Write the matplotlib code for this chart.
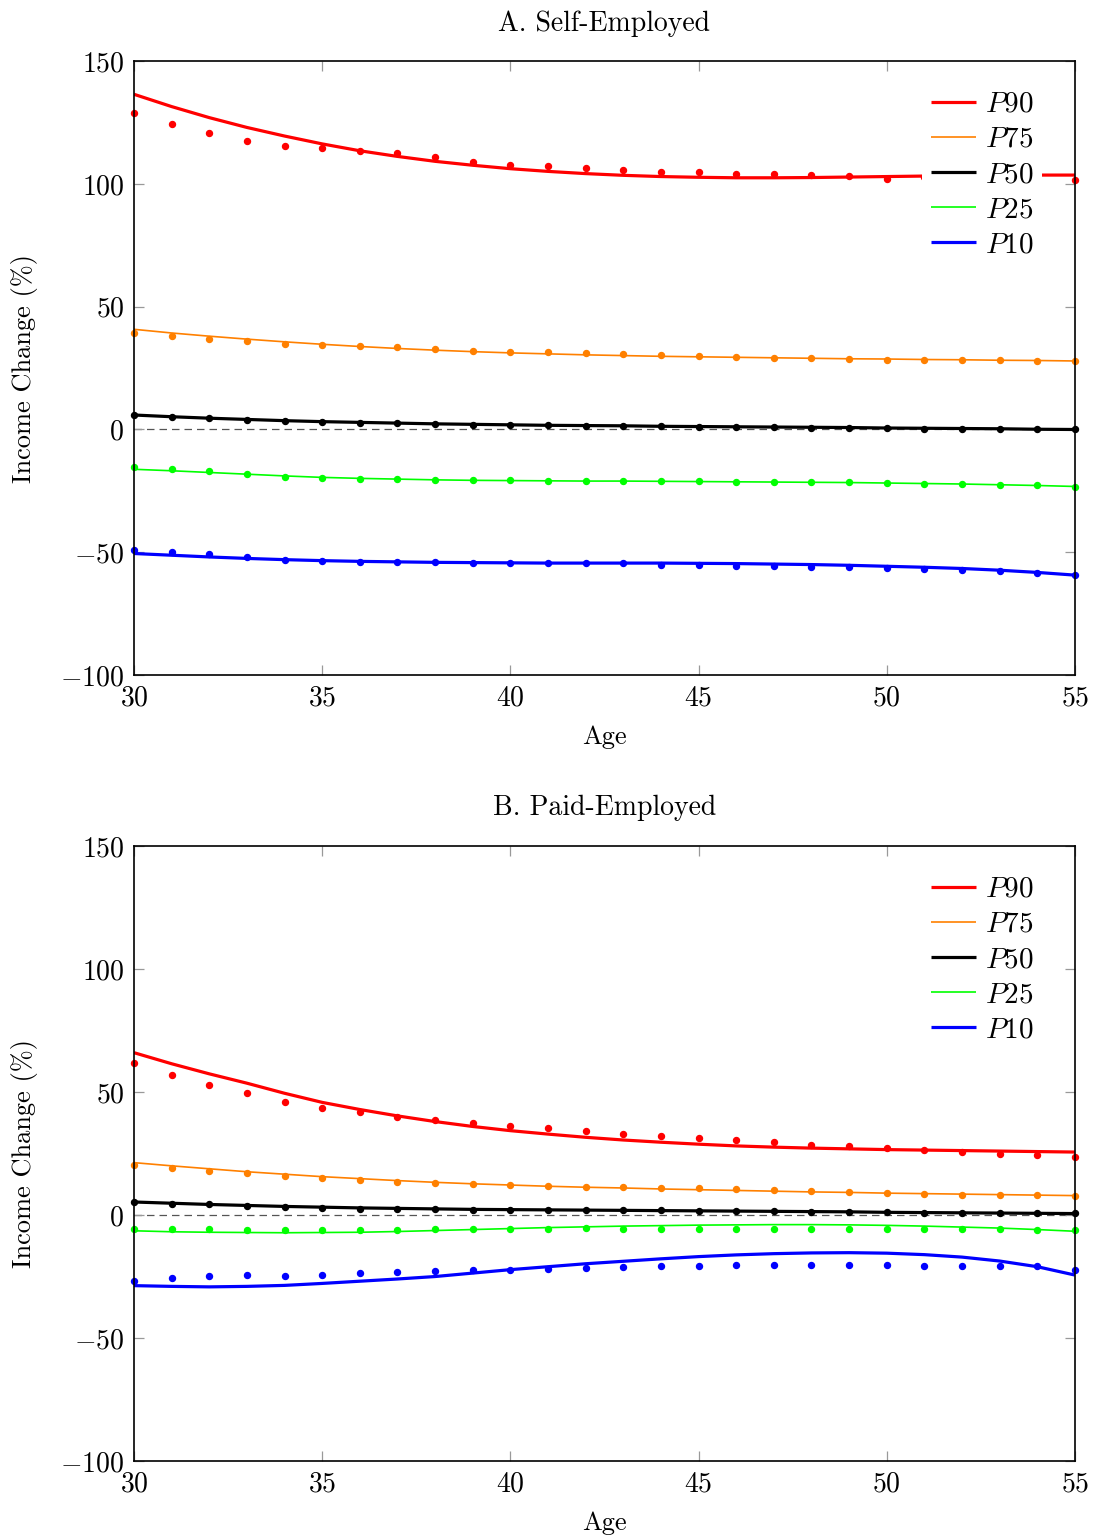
import matplotlib
matplotlib.use("Agg")
import matplotlib.pyplot as plt
import numpy as np

plt.rcParams['font.family'] = ['cmr10', 'DejaVu Serif']
plt.rcParams['mathtext.fontset'] = 'cm'
plt.rcParams['axes.formatter.use_mathtext'] = True
plt.rcParams['axes.unicode_minus'] = True

ages = list(range(30, 56))

# ---------- Panel A: Self-Employed ----------
a_p90_dots = [128.9, 124.6, 120.8, 117.6, 115.4, 114.7, 113.5, 112.4, 110.8, 108.9, 107.9, 107.2, 106.4,
              105.7, 104.7, 104.9, 104.1, 104.0, 103.5, 103.3, 102.1, 103.0, 103.2, 103.3, 103.4, 101.4]
a_p90_fit = [136.5, 131.5, 127.0, 123.0, 119.5, 116.3, 113.5, 111.2, 109.2, 107.6, 106.2, 105.1, 104.2,
             103.5, 103.0, 102.7, 102.5, 102.5, 102.6, 102.8, 103.0, 103.2, 103.4, 103.5, 103.6, 103.6]
a_p75_dots = [39.4, 38.0, 36.9, 36.0, 34.9, 34.4, 34.0, 33.7, 32.7, 32.0, 31.6, 31.5, 31.1,
              30.6, 30.2, 30.1, 29.6, 29.2, 29.1, 28.8, 28.4, 28.4, 28.2, 28.2, 28.0, 27.9]
a_p75_fit = [40.8, 39.3, 38.0, 36.8, 35.7, 34.7, 33.8, 33.0, 32.3, 31.7, 31.2, 30.8, 30.4,
             30.1, 29.8, 29.6, 29.4, 29.2, 29.0, 28.8, 28.7, 28.5, 28.4, 28.2, 28.1, 27.9]
a_p50_dots = [5.7, 5.2, 4.5, 4.0, 3.4, 3.0, 2.6, 2.5, 2.2, 1.9, 1.8, 1.7, 1.5,
              1.5, 1.3, 1.2, 1.1, 1.0, 0.7, 0.7, 0.6, 0.4, 0.3, 0.3, 0.1, 0.0]
a_p50_fit = [5.9, 5.2, 4.6, 4.1, 3.6, 3.2, 2.9, 2.6, 2.3, 2.1, 1.9, 1.7, 1.6,
             1.5, 1.3, 1.2, 1.1, 1.0, 0.9, 0.8, 0.6, 0.5, 0.4, 0.3, 0.1, 0.0]
a_p25_dots = [-15.2, -16.1, -17.1, -18.2, -19.2, -19.8, -20.2, -20.2, -20.5, -20.7, -20.7, -20.9, -20.9,
              -21.0, -21.1, -21.1, -21.3, -21.4, -21.4, -21.5, -21.9, -22.1, -22.2, -22.5, -22.8, -23.3]
a_p25_fit = [-16.2, -16.8, -17.5, -18.2, -18.9, -19.5, -19.9, -20.2, -20.5, -20.7, -20.8, -20.9, -21.0,
             -21.0, -21.1, -21.2, -21.3, -21.4, -21.5, -21.6, -21.8, -22.0, -22.2, -22.5, -22.8, -23.2]
a_p10_dots = [-49.1, -49.8, -50.7, -51.8, -53.0, -53.6, -53.9, -53.8, -54.0, -54.3, -54.4, -54.5, -54.5,
              -54.5, -55.2, -55.2, -55.5, -55.6, -55.9, -56.0, -56.6, -56.7, -57.2, -57.7, -58.3, -59.3]
a_p10_fit = [-50.5, -51.2, -51.9, -52.5, -53.0, -53.4, -53.7, -53.9, -54.1, -54.2, -54.3, -54.4, -54.4,
             -54.4, -54.4, -54.5, -54.6, -54.8, -55.0, -55.3, -55.7, -56.1, -56.6, -57.3, -58.2, -59.3]

# ---------- Panel B: Paid-Employed ----------
b_p90_dots = [61.7, 57.1, 53.0, 49.5, 46.0, 43.7, 41.7, 40.0, 38.6, 37.4, 36.3, 35.2, 34.2,
              33.0, 32.1, 31.3, 30.3, 29.5, 28.5, 28.0, 27.2, 26.5, 25.7, 25.0, 24.5, 23.7]
b_p90_fit = [66.0, 61.5, 57.4, 53.6, 49.5, 45.8, 42.9, 40.3, 38.0, 36.0, 34.3, 32.9, 31.6,
             30.5, 29.6, 28.8, 28.1, 27.6, 27.2, 26.9, 26.6, 26.4, 26.2, 26.0, 25.8, 25.6]
b_p75_dots = [20.4, 19.1, 18.0, 16.9, 15.8, 15.0, 14.2, 13.6, 13.0, 12.6, 12.3, 12.0, 11.6,
              11.3, 11.1, 10.8, 10.4, 10.0, 9.6, 9.2, 8.9, 8.6, 8.3, 8.2, 8.1, 7.9]
b_p75_fit = [21.3, 20.0, 18.8, 17.6, 16.6, 15.6, 14.8, 14.0, 13.3, 12.7, 12.2, 11.7, 11.3,
             11.0, 10.6, 10.3, 10.0, 9.7, 9.4, 9.2, 8.9, 8.7, 8.5, 8.3, 8.1, 7.9]
b_p50_dots = [5.1, 4.6, 4.3, 3.7, 3.4, 3.0, 2.6, 2.4, 2.3, 2.2, 2.2, 2.0, 2.0,
              2.0, 1.9, 1.8, 1.6, 1.5, 1.4, 1.3, 1.1, 1.0, 0.8, 0.7, 0.7, 0.7]
b_p50_fit = [5.3, 4.8, 4.3, 3.9, 3.5, 3.2, 2.9, 2.7, 2.5, 2.3, 2.2, 2.1, 2.0,
             1.9, 1.8, 1.7, 1.6, 1.5, 1.4, 1.3, 1.1, 1.0, 0.9, 0.8, 0.7, 0.6]
b_p25_dots = [-5.8, -5.8, -5.8, -6.0, -6.0, -6.0, -6.0, -6.0, -5.8, -5.8, -5.6, -5.5, -5.4,
              -5.6, -5.6, -5.5, -5.5, -5.5, -5.6, -5.6, -5.6, -5.6, -5.8, -5.8, -6.0, -6.0]
b_p25_fit = [-6.4, -6.8, -7.0, -7.1, -7.2, -7.1, -7.0, -6.7, -6.3, -5.9, -5.5, -5.1, -4.8,
             -4.5, -4.3, -4.1, -4.0, -3.9, -3.9, -4.0, -4.2, -4.5, -4.9, -5.3, -5.9, -6.6]
b_p10_dots = [-26.7, -25.5, -24.8, -24.3, -24.6, -24.3, -23.6, -23.1, -22.7, -22.4, -22.3, -21.9, -21.5,
              -21.1, -20.9, -20.7, -20.5, -20.4, -20.2, -20.2, -20.5, -20.6, -20.6, -20.9, -20.9, -22.3]
b_p10_fit = [-28.7, -29.0, -29.2, -29.0, -28.6, -27.8, -26.9, -26.0, -25.0, -23.6, -22.2, -21.0, -19.8,
             -18.8, -17.8, -16.9, -16.2, -15.7, -15.4, -15.3, -15.5, -16.1, -17.1, -18.7, -21.0, -24.4]

series_labels = [r'$P90$', r'$P75$', r'$P50$', r'$P25$', r'$P10$']
series_colors = ['#ff0000', '#ff8000', '#000000', '#00ff00', '#0000ff']
series_widths = [2.3, 1.2, 2.3, 1.2, 2.3]

x_ticks = [30, 35, 40, 45, 50, 55]
x_tick_labels = [r'$30$', r'$35$', r'$40$', r'$45$', r'$50$', r'$55$']
y_ticks = [-100, -50, 0, 50, 100, 150]
y_tick_labels = [r'$-100$', r'$-50$', r'$0$', r'$50$', r'$100$', r'$150$']

panels = [
    ('A. Self-Employed',
     [a_p90_dots, a_p75_dots, a_p50_dots, a_p25_dots, a_p10_dots],
     [a_p90_fit, a_p75_fit, a_p50_fit, a_p25_fit, a_p10_fit]),
    ('B. Paid-Employed',
     [b_p90_dots, b_p75_dots, b_p50_dots, b_p25_dots, b_p10_dots],
     [b_p90_fit, b_p75_fit, b_p50_fit, b_p25_fit, b_p10_fit]),
]

fig = plt.figure(figsize=(10.98, 15.36), dpi=100)
rects = [[0.1220, 0.5605, 0.8570, 0.3997],
         [0.1220, 0.0488, 0.8570, 0.4004]]

for rect, (title, dots, fits) in zip(rects, panels):
    ax = fig.add_axes(rect)
    ax.axhline(0, color='#555555', lw=0.9, ls=(0, (6, 4)), zorder=1)
    for d, f, lab, c, w in zip(dots, fits, series_labels, series_colors, series_widths):
        ax.plot(ages, f, color=c, lw=w, label=lab, zorder=3, solid_capstyle='butt')
        ax.plot(ages, d, ls='none', marker='o', ms=4.3, color=c, mec=c, zorder=4, clip_on=False)
    ax.set_xlim(30, 55)
    ax.set_ylim(-100, 150)
    ax.set_xticks(x_ticks)
    ax.set_xticklabels(x_tick_labels)
    ax.set_yticks(y_ticks)
    ax.set_yticklabels(y_tick_labels)
    ax.tick_params(direction='in', length=7.5, width=0.9, color='#999999',
                   top=True, right=True, labelsize=20, pad=7)
    for sp in ax.spines.values():
        sp.set_linewidth(1.2)
        sp.set_color('black')
        sp.set_zorder(5)
    ax.set_xlabel('Age', fontsize=19, labelpad=10)
    ax.set_ylabel('Income Change (%)', fontsize=19, labelpad=16)
    ax.set_title(title, fontsize=20, pad=22)
    leg = ax.legend(loc='upper right', bbox_to_anchor=(0.965, 0.965), fontsize=21,
                    frameon=True, fancybox=False, edgecolor='none', facecolor='white',
                    framealpha=1.0, handlelength=1.55, handletextpad=0.3,
                    labelspacing=0.3, borderpad=0.3, borderaxespad=0.0)
    leg.set_zorder(6)

fig.savefig('out.png', dpi=100)
